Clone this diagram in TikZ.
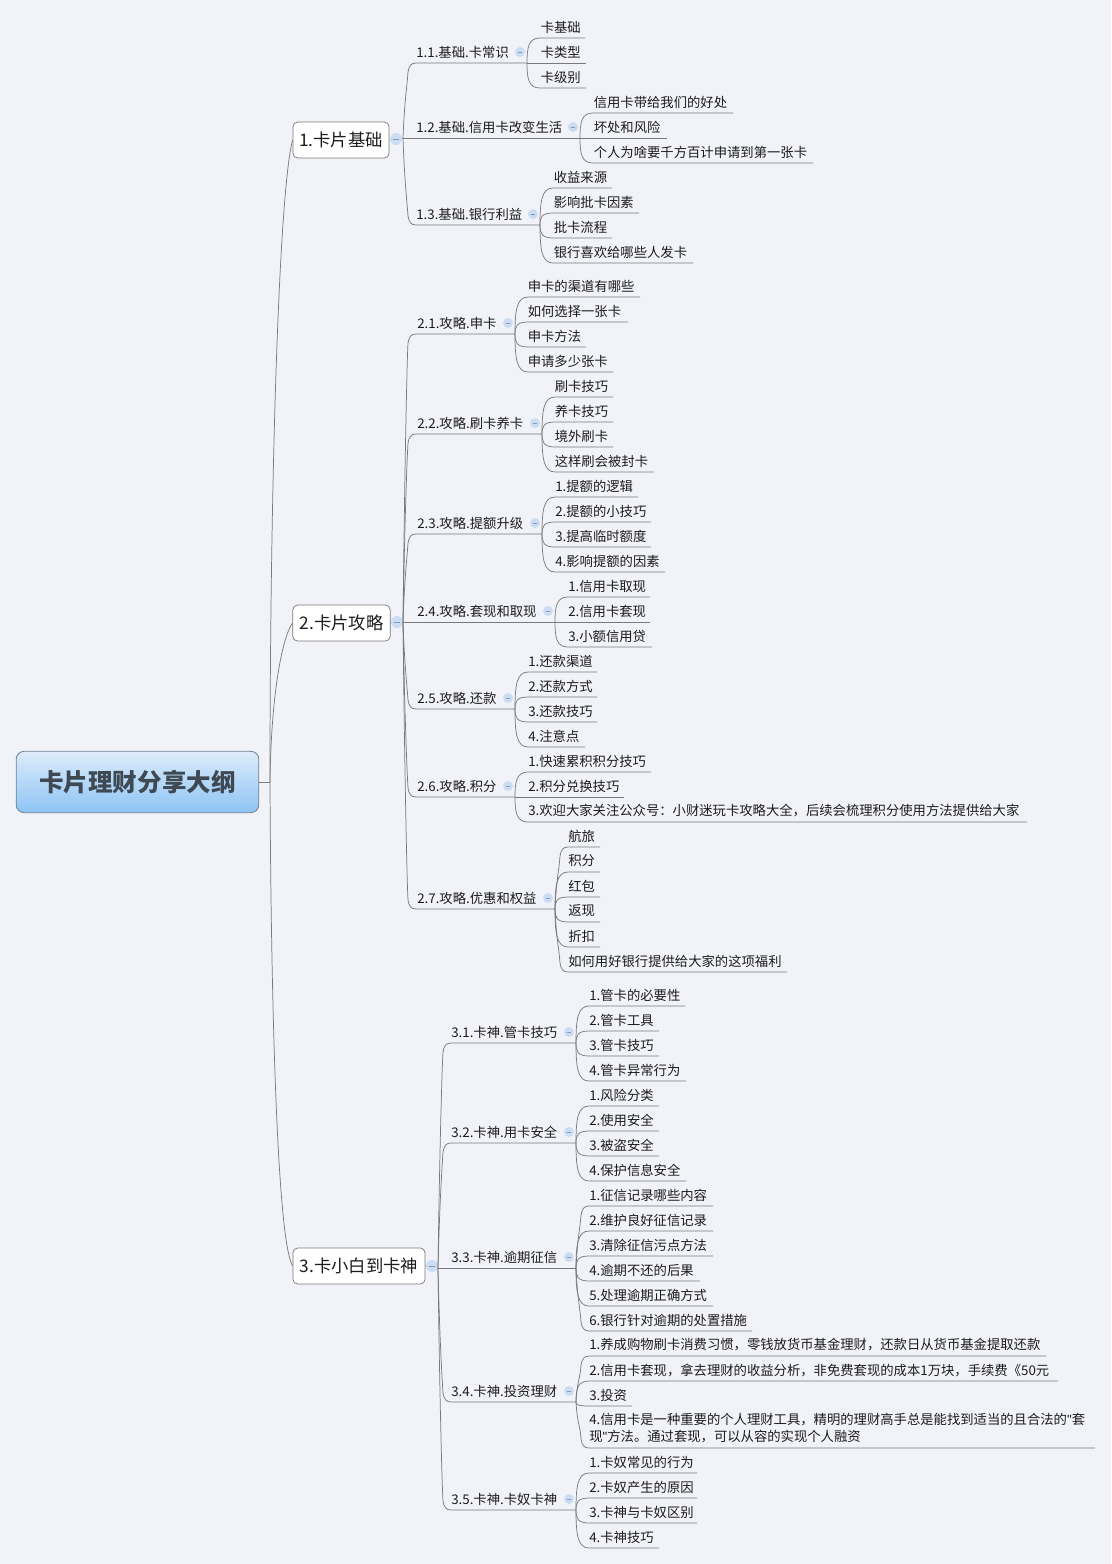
\documentclass[tikz,border=0pt]{standalone}
\usepackage{fontspec}
\setmainfont{Noto Sans CJK SC}
\newfontfamily\quotefont{Liberation Sans}
\usetikzlibrary{shapes.misc}
\definecolor{pagebg}{HTML}{F2F3F8}
\definecolor{linegray}{HTML}{7A7A7A}
\definecolor{inkc}{HTML}{1C1C1C}
\definecolor{rootink}{HTML}{3E4954}
\definecolor{rootedge}{HTML}{6E7F90}
\definecolor{rootTop}{HTML}{DDECFB}
\definecolor{rootBot}{HTML}{8DC4F4}
\definecolor{collfill}{HTML}{CBDCF3}
\definecolor{collbar}{HTML}{8099BC}
\tikzset{
  wire/.style={draw=linegray,line width=0.55pt},
  topictext/.style={anchor=west,inner sep=0pt,text=inkc,font=\fontsize{10pt}{12.75pt}\selectfont,align=left},
  mainbox/.style={draw=linegray,line width=0.55pt,fill=white,rounded corners=3.5pt,inner sep=0pt,minimum height=27pt,text=inkc,font=\fontsize{13pt}{16pt}\selectfont},
  rootbox/.style={draw=rootedge,line width=0.6pt,rounded corners=6pt,top color=rootTop,bottom color=rootBot,inner sep=0pt,minimum width=182pt,minimum height=46pt,text=rootink,font=\fontsize{18.4pt}{22pt}\selectfont\bfseries},
  collapse/.style={circle,fill=collfill,inner sep=0pt,minimum size=7.5pt},
  collapsebig/.style={circle,fill=collfill,inner sep=0pt,minimum size=9pt}
}
% current fork
\newcommand\setfork[3]{\def\fk{#1}\def\fx{#2}\def\fy{#3}\coordinate (#1) at (#2,#3);}
% name, text x, text y, underline y, underline end x, text
\newcommand\tpc[6]{%
  \node[topictext] (#1) at (#2,#3) {#6};
  \coordinate (#1-end) at (#5,#4);
  \pgfmathsetmacro\dd{abs(\fy-#4)}
  \pgfmathsetmacro\ss{\fy>#4 ? 1 : (\fy<#4 ? -1 : 0)}
  \pgfmathsetmacro\corx{\fx+13}
  \ifdim\dd pt<0.5pt
    \draw[wire] (\fk) -- (#1-end);
  \else\ifdim\dd pt<45pt
    \pgfmathsetmacro\aay{\fy-\ss*0.62*\dd}
    \pgfmathsetmacro\bbx{\fx+1.5}
    \draw[wire] (\fk) .. controls (\fx,\aay) and (\bbx,#4) .. (\corx,#4) -- (#1-end);
  \else
    \pgfmathsetmacro\aax{\fx+1.5}
    \pgfmathsetmacro\aay{(\fy+#4)/2}
    \pgfmathsetmacro\bbx{\fx+4}
    \pgfmathsetmacro\bby{#4+\ss*24}
    \pgfmathsetmacro\ccx{\fx+5}
    \pgfmathsetmacro\ccy{#4+\ss*9}
    \pgfmathsetmacro\ddx{\fx+6}
    \pgfmathsetmacro\ddy{#4+\ss*3}
    \pgfmathsetmacro\eex{\fx+8}
    \draw[wire] (\fk) .. controls (\aax,\aay) and (\bbx,\bby) .. (\ccx,\ccy) .. controls (\ddx,\ddy) and (\eex,#4) .. (\corx,#4) -- (#1-end);
  \fi\fi
}
% collapse marker
\newcommand\coll[3]{\node[collapse] (#1) at (#2,#3) {};
  \draw[collbar,line width=0.5pt] ([xshift=-1.8pt]#1.center) -- ([xshift=1.8pt]#1.center);}
\newcommand\collbig[3]{\node[collapsebig] (#1) at (#2,#3) {};
  \draw[collbar,line width=0.5pt] ([xshift=-2.4pt]#1.center) -- ([xshift=2.4pt]#1.center);}
\begin{document}
\begin{tikzpicture}[x=0.75pt,y=-0.75pt]
\fill[pagebg] (0,0) rectangle (1111,1564);
\useasboundingbox (0,0) rectangle (1111,1564);

% root and main topics
\node[rootbox] (root) at (137.5,782) {卡片理财分享大纲};
\node[mainbox,minimum width=72pt] (m1) at (341,140) {1.卡片基础};
\node[mainbox,minimum width=73pt] (m2) at (341.5,623) {2.卡片攻略};
\node[mainbox,minimum width=99pt] (m3) at (359,1266) {3.卡小白到卡神};
\coordinate (rf) at (270,782);
\draw[wire] (root.east) -- (rf);
\draw[wire] (rf) .. controls (270,480) and (279,190) .. (m1.west);
\draw[wire] (rf) .. controls (271,700) and (281,640) .. (m2.west);
\draw[wire] (rf) .. controls (271,1000) and (277,1240) .. (m3.west);

% ===== section 1
\setfork{f1}{403}{138}
\draw[wire] (m1.east) -- (f1);
\collbig{cm1}{396}{139}
\tpc{a1}{416}{52}{63}{527}{1.1.基础.卡常识}
\tpc{a2}{416}{127}{138}{580}{1.2.基础.信用卡改变生活}
\tpc{a3}{416}{214}{225}{540}{1.3.基础.银行利益}
\coll{ca1}{520}{52}
\coll{ca2}{573}{127}
\coll{ca3}{533}{214}

\setfork{fa1}{527}{63}
\tpc{a11}{540.5}{27}{38}{585}{卡基础}
\tpc{a12}{540.5}{52}{63}{586}{卡类型}
\tpc{a13}{540.5}{77}{88}{586}{卡级别}
\setfork{fa2}{580}{138}
\tpc{a21}{593.5}{102}{113}{733}{信用卡带给我们的好处}
\tpc{a22}{593.5}{127}{138}{667}{坏处和风险}
\tpc{a23}{593.5}{152}{163}{813}{个人为啥要千方百计申请到第一张卡}
\setfork{fa3}{540}{225}
\tpc{a31}{553.5}{177}{188}{612}{收益来源}
\tpc{a32}{553.5}{202}{213}{639}{影响批卡因素}
\tpc{a33}{553.5}{227}{238}{612}{批卡流程}
\tpc{a34}{553.5}{252}{263}{693}{银行喜欢给哪些人发卡}

% ===== section 2
\setfork{f2}{403}{622}
\draw[wire] (m2.east) -- (f2);
\collbig{cm2}{397}{622}
\tpc{b1}{417}{323}{334}{515}{2.1.攻略.申卡}
\tpc{b2}{417}{423}{434}{542}{2.2.攻略.刷卡养卡}
\tpc{b3}{417}{523}{534}{542}{2.3.攻略.提额升级}
\tpc{b4}{417}{611}{622}{555}{2.4.攻略.套现和取现}
\tpc{b5}{417}{698}{709}{515}{2.5.攻略.还款}
\tpc{b6}{417}{786}{797}{515}{2.6.攻略.积分}
\tpc{b7}{417}{898}{909}{555}{2.7.攻略.优惠和权益}
\coll{cb1}{508}{323}
\coll{cb2}{535}{423}
\coll{cb3}{535}{523}
\coll{cb4}{548}{611}
\coll{cb5}{508}{698}
\coll{cb6}{508}{786}
\coll{cb7}{548}{898}

\setfork{fb1}{515}{334}
\tpc{b11}{527.5}{286}{297}{640}{申卡的渠道有哪些}
\tpc{b12}{527.5}{311}{322}{628}{如何选择一张卡}
\tpc{b13}{527.5}{336}{347}{586}{申卡方法}
\tpc{b14}{527.5}{361}{372}{613}{申请多少张卡}
\setfork{fb2}{542}{434}
\tpc{b21}{554.5}{386}{397}{613}{刷卡技巧}
\tpc{b22}{554.5}{411}{422}{613}{养卡技巧}
\tpc{b23}{554.5}{436}{447}{613}{境外刷卡}
\tpc{b24}{554.5}{461}{472}{654}{这样刷会被封卡}
\setfork{fb3}{542}{534}
\tpc{b31}{555}{486}{497}{638}{1.提额的逻辑}
\tpc{b32}{555}{511}{522}{651}{2.提额的小技巧}
\tpc{b33}{555}{536}{547}{651}{3.提高临时额度}
\tpc{b34}{555}{561}{572}{665}{4.影响提额的因素}
\setfork{fb4}{555}{622}
\tpc{b41}{568}{586}{597}{650}{1.信用卡取现}
\tpc{b42}{568}{611}{622}{650}{2.信用卡套现}
\tpc{b43}{568}{636}{647}{652}{3.小额信用贷}
\setfork{fb5}{515}{709}
\tpc{b51}{528}{661}{672}{597}{1.还款渠道}
\tpc{b52}{528}{686}{697}{597}{2.还款方式}
\tpc{b53}{528}{711}{722}{597}{3.还款技巧}
\tpc{b54}{528}{736}{747}{585}{4.注意点}
\setfork{fb6}{515}{797}
\tpc{b61}{528}{761}{772}{651}{1.快速累积积分技巧}
\tpc{b62}{528}{786}{797}{624}{2.积分兑换技巧}
\tpc{b63}{528}{811}{822}{1027}{3.欢迎大家关注公众号：小财迷玩卡攻略大全，后续会梳理积分使用方法提供给大家}
\setfork{fb7}{555}{909}
\tpc{b71}{568}{836}{847}{600}{航旅}
\tpc{b72}{568}{861}{872}{600}{积分}
\tpc{b73}{568}{886}{897}{600}{红包}
\tpc{b74}{568}{911}{922}{600}{返现}
\tpc{b75}{568}{936}{947}{600}{折扣}
\tpc{b76}{568}{961}{972}{787}{如何用好银行提供给大家的这项福利}

% ===== section 3
\setfork{f3}{438}{1268}
\draw[wire] (m3.east) -- (f3);
\collbig{cm3}{432}{1266}
\tpc{c1}{451}{1032}{1043}{576}{3.1.卡神.管卡技巧}
\tpc{c2}{451}{1132}{1143}{576}{3.2.卡神.用卡安全}
\tpc{c3}{451}{1257}{1268}{576}{3.3.卡神.逾期征信}
\tpc{c4}{451}{1391}{1402}{576}{3.4.卡神.投资理财}
\tpc{c5}{451}{1499}{1510}{576}{3.5.卡神.卡奴卡神}
\coll{cc1}{569}{1032}
\coll{cc2}{569}{1132}
\coll{cc3}{569}{1257}
\coll{cc4}{569}{1391}
\coll{cc5}{569}{1499}

\setfork{fc1}{576}{1043}
\tpc{c11}{589}{995}{1006}{685}{1.管卡的必要性}
\tpc{c12}{589}{1020}{1031}{659}{2.管卡工具}
\tpc{c13}{589}{1045}{1056}{659}{3.管卡技巧}
\tpc{c14}{589}{1070}{1081}{686}{4.管卡异常行为}
\setfork{fc2}{576}{1143}
\tpc{c21}{589}{1095}{1106}{659}{1.风险分类}
\tpc{c22}{589}{1120}{1131}{659}{2.使用安全}
\tpc{c23}{589}{1145}{1156}{659}{3.被盗安全}
\tpc{c24}{589}{1170}{1181}{686}{4.保护信息安全}
\setfork{fc3}{576}{1268}
\tpc{c31}{589}{1195}{1206}{713}{1.征信记录哪些内容}
\tpc{c32}{589}{1220}{1231}{713}{2.维护良好征信记录}
\tpc{c33}{589}{1245}{1256}{713}{3.清除征信污点方法}
\tpc{c34}{589}{1270}{1281}{700}{4.逾期不还的后果}
\tpc{c35}{589}{1295}{1306}{713}{5.处理逾期正确方式}
\tpc{c36}{589}{1320}{1331}{752}{6.银行针对逾期的处置措施}
\setfork{fc4}{576}{1402}
\tpc{c41}{589}{1345}{1356}{1046}{1.养成购物刷卡消费习惯，零钱放货币基金理财，还款日从货币基金提取还款}
\tpc{c42}{589}{1370}{1381}{1058}{2.信用卡套现，拿去理财的收益分析，非免费套现的成本1万块，手续费《50元}
\tpc{c43}{589}{1395}{1406}{632}{3.投资}
\tpc{c44}{589}{1428.5}{1448}{1095}{4.信用卡是一种重要的个人理财工具，精明的理财高手总是能找到适当的且合法的{\quotefont"}套\\现{\quotefont"}方法。通过套现，可以从容的实现个人融资}
\setfork{fc5}{576}{1510}
\tpc{c51}{589}{1462}{1473}{697}{1.卡奴常见的行为}
\tpc{c52}{589}{1487}{1498}{697}{2.卡奴产生的原因}
\tpc{c53}{589}{1512}{1523}{697}{3.卡神与卡奴区别}
\tpc{c54}{589}{1537}{1548}{659}{4.卡神技巧}
\end{tikzpicture}
\end{document}
